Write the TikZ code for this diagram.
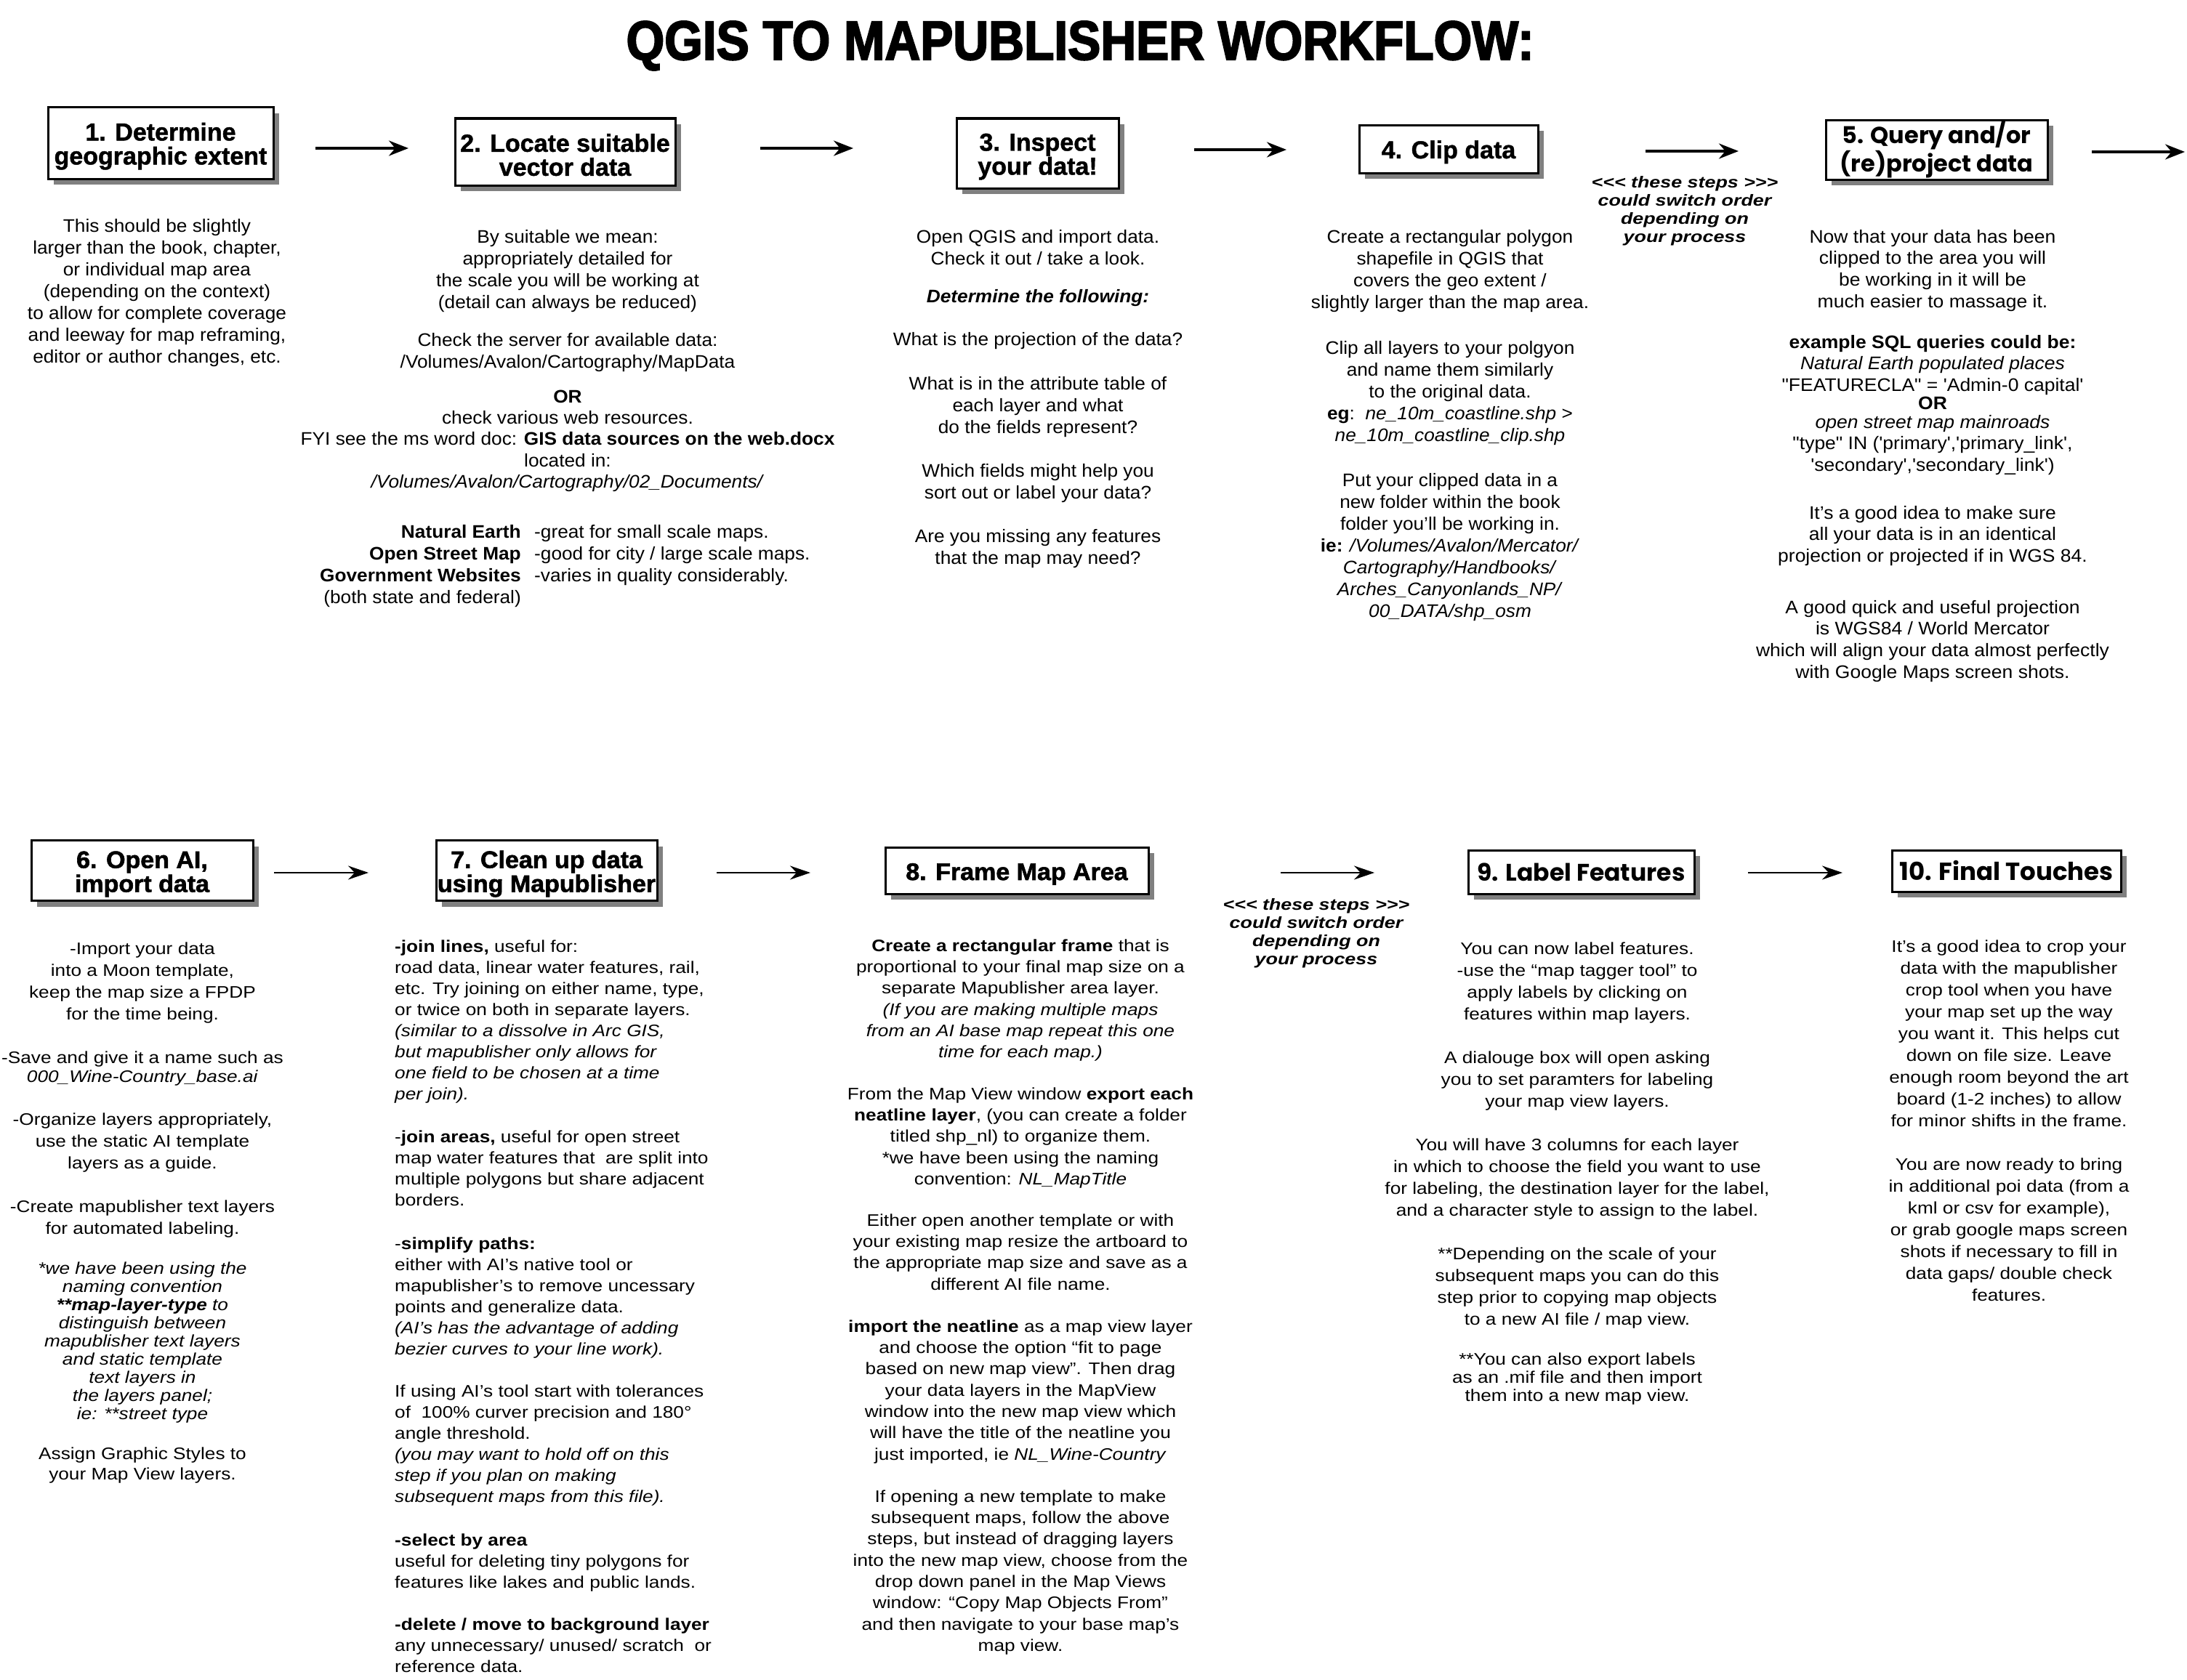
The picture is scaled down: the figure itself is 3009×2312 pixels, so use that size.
\documentclass[tikz,border=0pt]{standalone}
\usepackage{fontspec}
\setmainfont{Liberation Sans}
\newfontfamily\bodyA[FakeStretch=1.05]{Liberation Sans}
\newfontfamily\bodyB[FakeStretch=1.14]{Liberation Sans}
\newfontfamily\bodyC[FakeStretch=1.06]{Liberation Sans}
\newfontfamily\titA[BoldFeatures={FakeBold=1.3}]{Liberation Sans}
\newfontfamily\titB{Poppins}
\newfontfamily\titC[FakeStretch=1.03,BoldFeatures={FakeBold=1.8}]{Liberation Sans}
\newfontfamily\bigT[FakeStretch=0.89,BoldFeatures={FakeBold=2.6}]{Liberation Sans}
\newfontfamily\stepf[FakeStretch=1.22]{Liberation Sans}
\usetikzlibrary{arrows.meta,shadows}
\newcommand\st{\rule{0pt}{22pt}}
\newcommand\tst{\rule{0pt}{33pt}}
\tikzset{
  x=1pt,y=-1pt,
  box/.style={draw=black,line width=3pt,fill=white,inner sep=0pt,align=center,
    drop shadow={shadow xshift=8pt,shadow yshift=-8pt,fill=black!50,opacity=1}},
  tA/.style={box,font=\titA\bfseries\fontsize{34}{33}\selectfont},
  tB/.style={box,font=\titB\bfseries\fontsize{33}{32}\selectfont},
  tC/.style={box,font=\titC\bfseries\fontsize{33}{33}\selectfont},
  pA/.style={font=\bodyA\fontsize{25}{30}\selectfont,align=center,inner sep=0pt,anchor=north},
  pC/.style={font=\bodyC\fontsize{25}{29.6}\selectfont,align=center,inner sep=0pt,anchor=north},
  pB/.style={font=\bodyB\fontsize{23}{30}\selectfont,align=center,inner sep=0pt,anchor=north},
  pBl/.style={font=\bodyB\fontsize{23}{29}\selectfont,align=left,inner sep=0pt,anchor=north west},
  stepsnote/.style={font=\stepf\bfseries\itshape\fontsize{22}{25}\selectfont,align=center,inner sep=0pt,anchor=north},
  arrA/.style={line width=3.5pt,-{Stealth[length=27pt,width=21pt]}},
  arrB/.style={line width=2.2pt,-{Stealth[length=28pt,width=19pt]}}
}
\begin{document}
\begin{tikzpicture}
\useasboundingbox (0,0) rectangle (3009,2312);
\fill[white] (0,0) rectangle (3009,2312);

\node[font=\bigT\bfseries\fontsize{76}{80}\selectfont,inner sep=0pt] (title) at (1486,63) {QGIS TO MAPUBLISHER WORKFLOW:};

% ---------- row 1 boxes
\node[tA,minimum width=310pt,minimum height=98pt] (b1) at (221,197) {\tst{}1. Determine\\geographic extent};
\node[tA,minimum width=303pt,minimum height=92pt] (b2) at (777.5,209) {\tst{}2. Locate suitable\\vector data};
\node[tA,minimum width=223pt,minimum height=96pt] (b3) at (1427.5,211) {\tst{}3. Inspect\\your data!};
\node[tA,minimum width=246pt,minimum height=66pt] (b4) at (1993,205) {\tst{}4. Clip data};
\node[tB,font=\titB\bfseries\fontsize{32}{32}\selectfont,minimum width=305pt,minimum height=82pt] (b5) at (2664.5,206) {\rule{0pt}{30pt}5. Query and/or\\(re)project data};

% ---------- row 2 boxes
\node[tC,minimum width=305pt,minimum height=83pt] (b6) at (195.5,1198) {\tst{}6. Open AI,\\import data};
\node[tC,minimum width=304pt,minimum height=83pt] (b7) at (752,1198) {\tst{}7. Clean up data\\using Mapublisher};
\node[tC,minimum width=362pt,minimum height=64pt] (b8) at (1399,1198) {\tst{}8. Frame Map Area};
\node[tB,minimum width=311pt,minimum height=60pt] (b9) at (2175.5,1200) {9. Label Features};
\node[tB,font=\titB\bfseries\fontsize{34}{32}\selectfont,minimum width=315pt,minimum height=57pt] (b10) at (2760.5,1198.5) {10. Final Touches};

% ---------- arrows
\coordinate (a1s) at (434,204);  \coordinate (a1e) at (562,204);
\coordinate (a2s) at (1046,204); \coordinate (a2e) at (1174,204);
\coordinate (a3s) at (1643,206); \coordinate (a3e) at (1770,206);
\coordinate (a4s) at (2264,208); \coordinate (a4e) at (2392,208);
\coordinate (a5s) at (2878,209); \coordinate (a5e) at (3006,209);
\coordinate (a6s) at (377,1201);  \coordinate (a6e) at (507,1201);
\coordinate (a7s) at (986,1201);  \coordinate (a7e) at (1115,1201);
\coordinate (a8s) at (1762,1201); \coordinate (a8e) at (1891,1201);
\coordinate (a9s) at (2405,1201); \coordinate (a9e) at (2535,1201);
\draw[arrA] (a1s) -- (a1e);
\draw[arrA] (a2s) -- (a2e);
\draw[arrA] (a3s) -- (a3e);
\draw[arrA] (a4s) -- (a4e);
\draw[arrA] (a5s) -- (a5e);
\draw[arrB] (a6s) -- (a6e);
\draw[arrB] (a7s) -- (a7e);
\draw[arrB] (a8s) -- (a8e);
\draw[arrB] (a9s) -- (a9e);

% ---------- "these steps" notes
\node[stepsnote] (n1) at (2318,236) {\st{}<<< these steps >>>\\could switch order\\depending on\\your process};
\node[stepsnote] (n2) at (1811,1230) {\st{}<<< these steps >>>\\could switch order\\depending on\\your process};

% ---------- column 1
\node[pA] (t1) at (216,297) {\st{}This should be slightly\\larger than the book, chapter,\\or individual map area\\(depending on the context)\\to allow for complete coverage\\and leeway for map reframing,\\editor or author changes, etc.};

% ---------- column 2
\node[pA] (t2a) at (781,312) {\st{}By suitable we mean:\\appropriately detailed for\\the scale you will be working at\\(detail can always be reduced)};
\node[pA] (t2b) at (781,454) {\st{}Check the server for available data:\\/Volumes/Avalon/Cartography/MapData};
\node[pA,font=\bodyA\fontsize{25}{29.3}\selectfont] (t2c) at (781,532) {\st{}\textbf{OR}\\check various web resources.\\FYI see the ms word doc: \textbf{GIS data sources on the web.docx}\\located in:\\\textit{/Volumes/Avalon/Cartography/02\_Documents/}};
\node[pA,align=right,anchor=north east] (t2d) at (717,718) {\st{}\textbf{Natural Earth}\\\textbf{Open Street Map}\\\textbf{Government Websites}\\(both state and federal)};
\node[pA,align=left,anchor=north west] (t2e) at (735,718) {\st{}-great for small scale maps.\\-good for city / large scale maps.\\-varies in quality considerably.};

% ---------- column 3
\node[pA] (t3a) at (1428,312) {\st{}Open QGIS and import data.\\Check it out / take a look.};
\node[pA] (t3b) at (1428,394) {\st{}\textbf{\textit{Determine the following:}}};
\node[pA] (t3c) at (1428,453) {\st{}What is the projection of the data?};
\node[pA] (t3d) at (1428,514) {\st{}What is in the attribute table of\\each layer and what\\do the fields represent?};
\node[pA] (t3e) at (1428,634) {\st{}Which fields might help you\\sort out or label your data?};
\node[pA] (t3f) at (1428,724) {\st{}Are you missing any features\\that the map may need?};

% ---------- column 4
\node[pA] (t4a) at (1995,312) {\st{}Create a rectangular polygon\\shapefile in QGIS that\\covers the geo extent /\\slightly larger than the map area.};
\node[pA] (t4b) at (1995,465) {\st{}Clip all layers to your polgyon\\and name them similarly\\to the original data.\\\textbf{eg}:\ \ \textit{ne\_10m\_coastline.shp} >\\\textit{ne\_10m\_coastline\_clip.shp}};
\node[pA] (t4c) at (1995,647) {\st{}Put your clipped data in a\\new folder within the book\\folder you’ll be working in.\\\textbf{ie:} \textit{/Volumes/Avalon/Mercator/}\\\textit{Cartography/Handbooks/}\\\textit{Arches\_Canyonlands\_NP/}\\\textit{00\_DATA/shp\_osm}};

% ---------- column 5
\node[pC] (t5a) at (2659,312) {\st{}Now that your data has been\\clipped to the area you will\\be working in it will be\\much easier to massage it.};
\node[pC] (t5b) at (2659,457) {\st{}\textbf{example SQL queries could be:}\\\textit{Natural Earth populated places}\\"FEATURECLA" = 'Admin-0 capital'};
\node[pC] (t5c) at (2659,541) {\st{}\textbf{OR}};
\node[pC] (t5d) at (2659,567) {\st{}\textit{open street map mainroads}\\"type" IN ('primary','primary\_link',\\'secondary','secondary\_link')};
\node[pC] (t5e) at (2659,692) {\st{}It’s a good idea to make sure\\all your data is in an identical\\projection or projected if in WGS 84.};
\node[pC] (t5f) at (2659,822) {\st{}A good quick and useful projection\\is WGS84 / World Mercator\\which will align your data almost perfectly\\with Google Maps screen shots.};

% ---------- column 6
\node[pB] (t6a) at (196,1291) {\st{}-Import your data\\into a Moon template,\\keep the map size a FPDP\\for the time being.};
\node[pB,font=\bodyB\fontsize{23}{26}\selectfont] (t6b) at (196,1441) {\st{}-Save and give it a name such as\\\textit{000\_Wine-Country\_base.ai}};
\node[pB] (t6c) at (196,1526) {\st{}-Organize layers appropriately,\\use the static AI template\\layers as a guide.};
\node[pB] (t6d) at (196,1646) {\st{}-Create mapublisher text layers\\for automated labeling.};
\node[pB,font=\bodyB\itshape\fontsize{23}{25}\selectfont] (t6e) at (196,1731) {\st{}*we have been using the\\naming convention\\\textbf{**map-layer-type} to\\distinguish between\\mapublisher text layers\\and static template\\text layers in\\the layers panel;\\ie: **street type};
\node[pB,font=\bodyB\fontsize{23}{28}\selectfont] (t6f) at (196,1986) {\st{}Assign Graphic Styles to\\your Map View layers.};

% ---------- column 7
\node[pBl] (t7a) at (543,1288) {\st{}\textbf{-join lines,} useful for:\\road data, linear water features, rail,\\etc. Try joining on either name, type,\\or twice on both in separate layers.\\\textit{(similar to a dissolve in Arc GIS,}\\\textit{but mapublisher only allows for}\\\textit{one field to be chosen at a time}\\\textit{per join).}};
\node[pBl] (t7b) at (543,1550) {\st{}-\textbf{join areas,} useful for open street\\map water features that\ \ are split into\\multiple polygons but share adjacent\\borders.};
\node[pBl] (t7c) at (543,1697) {\st{}-\textbf{simplify paths:}\\either with AI’s native tool or\\mapublisher’s to remove uncessary\\points and generalize data.\\\textit{(AI’s has the advantage of adding}\\\textit{bezier curves to your line work).}};
\node[pBl] (t7d) at (543,1900) {\st{}If using AI’s tool start with tolerances\\of\ \ 100\% curver precision and 180°\\angle threshold.\\\textit{(you may want to hold off on this}\\\textit{step if you plan on making}\\\textit{subsequent maps from this file).}};
\node[pBl] (t7e) at (543,2105) {\st{}\textbf{-select by area}\\useful for deleting tiny polygons for\\features like lakes and public lands.};
\node[pBl] (t7f) at (543,2221) {\st{}\textbf{-delete / move to background layer}\\any unnecessary/ unused/ scratch\ \ or\\reference data.};

% ---------- column 8
\node[pB,font=\bodyB\fontsize{23}{29.3}\selectfont] (t8a) at (1404,1287) {\st{}\textbf{Create a rectangular frame} that is\\proportional to your final map size on a\\separate Mapublisher area layer.\\\textit{(If you are making multiple maps}\\\textit{from an AI base map repeat this one}\\\textit{time for each map.)}};
\node[pB,font=\bodyB\fontsize{23}{29.3}\selectfont] (t8b) at (1404,1491) {\st{}From the Map View window \textbf{export each}\\\textbf{neatline layer}, (you can create a folder\\titled shp\_nl) to organize them.\\{*}we have been using the naming\\convention: \textit{NL\_MapTitle}};
\node[pB,font=\bodyB\fontsize{23}{29.3}\selectfont] (t8c) at (1404,1665) {\st{}Either open another template or with\\your existing map resize the artboard to\\the appropriate map size and save as a\\different AI file name.};
\node[pB,font=\bodyB\fontsize{23}{29.3}\selectfont] (t8d) at (1404,1811) {\st{}\textbf{import the neatline} as a map view layer\\and choose the option “fit to page\\based on new map view”. Then drag\\your data layers in the MapView\\window into the new map view which\\will have the title of the neatline you\\just imported, ie \textit{NL\_Wine-Country}};
\node[pB,font=\bodyB\fontsize{23}{29.3}\selectfont] (t8e) at (1404,2045) {\st{}If opening a new template to make\\subsequent maps, follow the above\\steps, but instead of dragging layers\\into the new map view, choose from the\\drop down panel in the Map Views\\window: “Copy Map Objects From”\\and then navigate to your base map’s\\map view.};

% ---------- column 9
\node[pB] (t9a) at (2170,1291) {\st{}You can now label features.\\-use the “map tagger tool” to\\apply labels by clicking on\\features within map layers.};
\node[pB] (t9b) at (2170,1441) {\st{}A dialouge box will open asking\\you to set paramters for labeling\\your map view layers.};
\node[pB] (t9c) at (2170,1561) {\st{}You will have 3 columns for each layer\\in which to choose the field you want to use\\for labeling, the destination layer for the label,\\and a character style to assign to the label.};
\node[pB] (t9d) at (2170,1711) {\st{}**Depending on the scale of your\\subsequent maps you can do this\\step prior to copying map objects\\to a new AI file / map view.};
\node[pB,font=\bodyB\fontsize{23}{25}\selectfont] (t9e) at (2170,1856) {\st{}**You can also export labels\\as an .mif file and then import\\them into a new map view.};

% ---------- column 10
\node[pB] (t10a) at (2764,1288) {\st{}It’s a good idea to crop your\\data with the mapublisher\\crop tool when you have\\your map set up the way\\you want it. This helps cut\\down on file size. Leave\\enough room beyond the art\\board (1-2 inches) to allow\\for minor shifts in the frame.};
\node[pB] (t10b) at (2764,1588) {\st{}You are now ready to bring\\in additional poi data (from a\\kml or csv for example),\\or grab google maps screen\\shots if necessary to fill in\\data gaps/ double check\\features.};
\end{tikzpicture}
\end{document}
